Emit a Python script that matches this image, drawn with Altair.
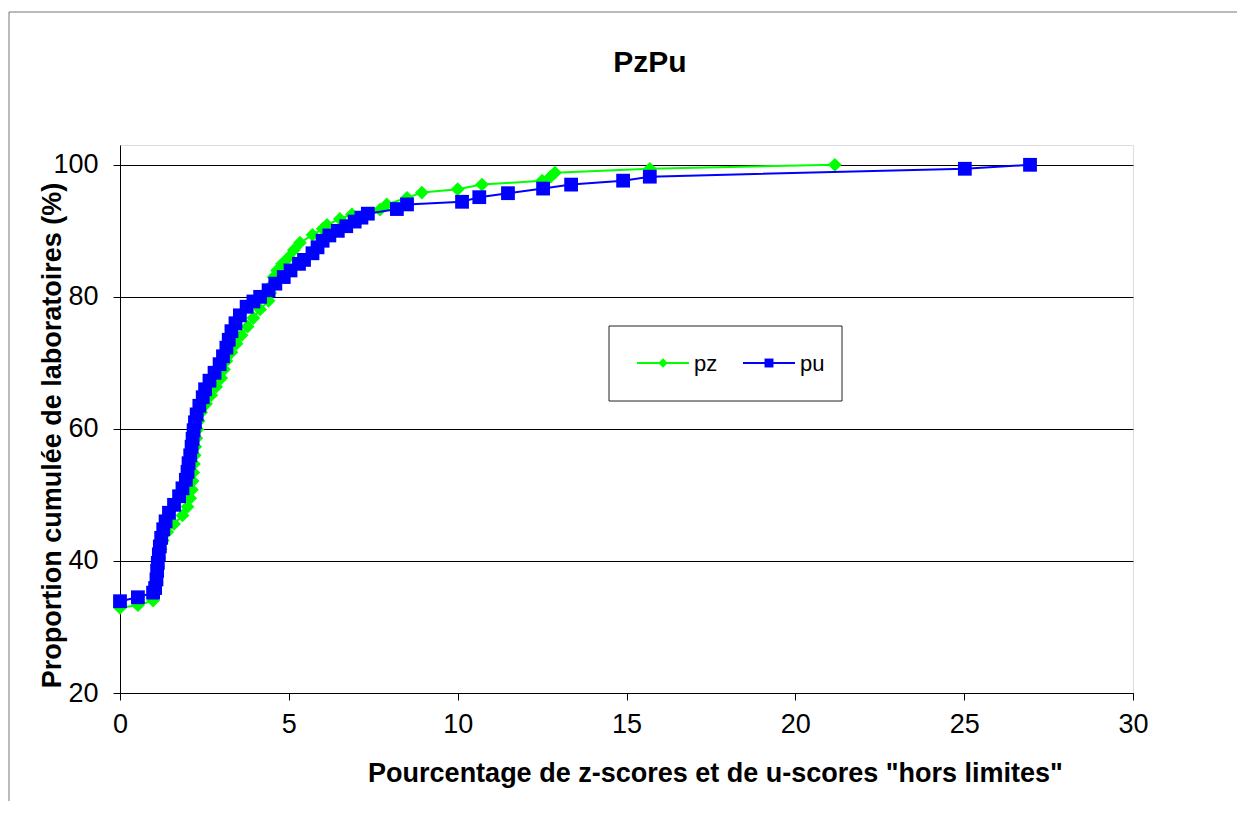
import altair as alt
import pandas as pd

# ---- data ----
pz_x = [0, 0.53, 0.98, 1.04, 1.08, 1.10, 1.13, 1.16, 1.20, 1.27, 1.40, 1.60, 1.85, 2.00, 2.08,
        2.13, 2.15, 2.17, 2.19, 2.21, 2.23, 2.26, 2.29, 2.33, 2.40, 2.55, 2.70, 2.85, 3.00, 3.08,
        3.15, 3.30, 3.45, 3.60, 3.78, 3.95, 4.15, 4.40, 4.45, 4.50, 4.55, 4.65, 4.80, 5.00, 5.15,
        5.33, 5.70, 6.00, 6.13, 6.51, 6.87, 7.70, 7.90, 8.50, 8.94, 10.00, 10.72, 12.50, 12.75,
        12.88, 15.69, 21.17]
pz_y = [32.9, 33.3, 34.0, 35.3, 36.6, 37.9, 39.2, 40.5, 41.8, 43.1, 44.4, 45.6, 46.9, 48.2, 49.5,
        50.8, 52.1, 53.4, 54.7, 56.0, 57.3, 58.6, 59.9, 61.2, 62.5, 63.8, 65.1, 66.4, 67.7, 69.0,
        70.3, 71.6, 72.9, 74.2, 75.5, 76.8, 78.1, 79.4, 80.6, 81.8, 83.0, 84.0, 85.0, 86.0, 87.1,
        88.2, 89.4, 90.3, 90.9, 91.8, 92.5, 93.2, 94.0, 95.0, 95.8, 96.3, 97.0, 97.6, 98.2,
        98.8, 99.4, 100]

pu_x = [0, 0.53, 0.98, 1.04, 1.08, 1.10, 1.12, 1.15, 1.18, 1.22, 1.28, 1.35, 1.45, 1.6, 1.75,
        1.85, 1.95, 2.0, 2.03, 2.08, 2.12, 2.15, 2.18, 2.22, 2.27, 2.35, 2.45, 2.52, 2.65, 2.8,
        2.95, 3.05, 3.15, 3.22, 3.3, 3.42, 3.55, 3.75, 3.95, 4.15, 4.4, 4.6, 4.85, 5.05, 5.3,
        5.45, 5.7, 5.85, 6.0, 6.2, 6.45, 6.7, 6.95, 7.15, 7.34, 8.2, 8.5, 10.13, 10.64, 11.49,
        12.53, 13.36, 14.9, 15.69, 25.02, 26.95]
pu_y = [33.9, 34.5, 35.2, 35.9, 37.2, 38.5, 39.7, 41.0, 42.2, 43.5, 44.8, 46.0, 47.3, 48.5, 49.8,
        51.0, 52.3, 53.5, 54.8, 56.0, 57.3, 58.5, 59.8, 61.0, 62.2, 63.5, 64.8, 66.0, 67.3, 68.5,
        69.8, 71.0, 72.3, 73.5, 74.8, 76.0, 77.2, 78.5, 79.3, 80.0, 81.0, 82.0, 83.0, 84.0, 85.0,
        85.6, 86.6, 87.5, 88.5, 89.3, 90.0, 90.7, 91.4, 92.0, 92.6, 93.3, 94.0, 94.4, 95.1, 95.7,
        96.4, 97.0, 97.6, 98.2, 99.4, 100]

series_names = ["pz", "pu"]
series_colors = ["#00FF00", "#0000FF"]
x_ticks = [0, 5, 10, 15, 20, 25, 30]
y_ticks = [20, 40, 60, 80, 100]

FONT = "Liberation Sans"

pz_df = pd.DataFrame({"x": pz_x, "y": pz_y, "idx": range(len(pz_x)), "serie": "pz"})
pu_df = pd.DataFrame({"x": pu_x, "y": pu_y, "idx": range(len(pu_x)), "serie": "pu"})

x_enc = alt.X("x:Q", scale=alt.Scale(domain=[0, 30], nice=False, zero=False),
              axis=alt.Axis(values=x_ticks, grid=False, tickSize=7, labelFontSize=27,
                            labelPadding=11, labelFont=FONT, labelColor="black",
                            labelFlush=False,
                            domainColor="black", tickColor="black",
                            title='Pourcentage de z-scores et de u-scores "hors limites"',
                            titleFont=FONT, titleFontSize=27, titleFontWeight="bold",
                            titleColor="black", titleX=595, titleY=80,
                            titleBaseline="middle", titleAlign="center"))
y_enc = alt.Y("y:Q", scale=alt.Scale(domain=[20, 103], nice=False, zero=False),
              axis=alt.Axis(values=y_ticks, grid=True, gridColor="black", gridWidth=1,
                            tickSize=7, labelFontSize=27, labelPadding=15, labelFont=FONT,
                            labelColor="black", labelFlush=False,
                            domainColor="black", tickColor="black",
                            title="Proportion cumulée de laboratoires (%)",
                            titleFont=FONT, titleFontSize=27, titleFontWeight="bold",
                            titleColor="black", titleX=-68, titleY=290,
                            titleBaseline="middle", titleAlign="center", titleAngle=-90))


def series_layers(df, color, shape):
    line = alt.Chart(df).mark_line(color=color, strokeWidth=2).encode(
        x=x_enc, y=y_enc, order="idx:Q")
    pts = alt.Chart(df).mark_point(filled=True, color=color, shape=shape, size=190,
                                   opacity=1, strokeWidth=0).encode(x=x_enc, y=y_enc)
    return [line, pts]


one = pd.DataFrame({"k": [0]})

# outer frame (left and top edges)
frame_left = alt.Chart(one).mark_rule(color="#777777", strokeWidth=1).encode(
    x=alt.value(-111), y=alt.value(-133), y2=alt.value(720))
frame_top = alt.Chart(one).mark_rule(color="#777777", strokeWidth=1).encode(
    x=alt.value(-111), x2=alt.value(1200), y=alt.value(-133))

# chart title
title_txt = alt.Chart(one).mark_text(text="PzPu", align="center", baseline="middle",
                                     font=FONT, fontSize=30, fontWeight="bold",
                                     color="black").encode(
    x=alt.value(530), y=alt.value(-82))

# legend box
leg_box = alt.Chart(one).mark_rect(fill="white", stroke="#222222", strokeWidth=1).encode(
    x=alt.value(489), x2=alt.value(722), y=alt.value(181), y2=alt.value(256))
leg_layers = []
for name, color, shape, x0 in [("pz", series_colors[0], "diamond", 517),
                               ("pu", series_colors[1], "square", 623)]:
    leg_layers.append(alt.Chart(one).mark_rule(color=color, strokeWidth=2).encode(
        x=alt.value(x0), x2=alt.value(x0 + 52), y=alt.value(218)))
    leg_layers.append(alt.Chart(one).mark_point(filled=True, color=color, shape=shape,
                                                size=80 if shape == "square" else 90,
                                                opacity=1, strokeWidth=0).encode(
        x=alt.value(x0 + 26), y=alt.value(218)))
    leg_layers.append(alt.Chart(one).mark_text(text=name, align="left", baseline="middle",
                                               font=FONT, fontSize=22, color="black").encode(
        x=alt.value(x0 + 57), y=alt.value(219)))

chart = alt.layer(
    frame_left, frame_top, title_txt,
    *series_layers(pz_df, series_colors[0], "diamond"),
    *series_layers(pu_df, series_colors[1], "square"),
    leg_box, *leg_layers,
).properties(
    width=1013, height=548,
    autosize=alt.AutoSizeParams(type="none"),
    padding={"left": 112, "top": 137, "right": 104, "bottom": 108},
).configure_view(stroke=None).configure(background="white")

chart.save("out.html", embed_options={"renderer": "svg", "actions": False})
